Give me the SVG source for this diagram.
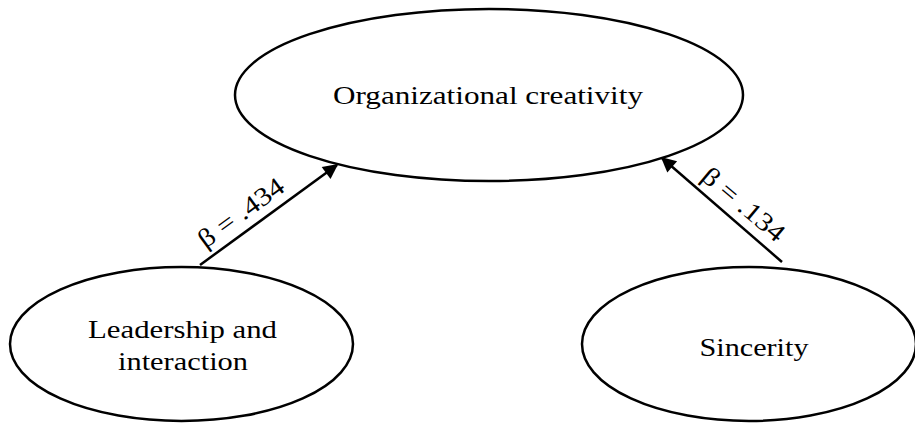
<svg xmlns="http://www.w3.org/2000/svg" width="915" height="423" viewBox="0 0 915 423">
<style>
.node{fill:#fff;stroke:#000;stroke-width:2.5}
.lbl{font-family:'Liberation Serif','Times New Roman',serif;font-size:26px;fill:#000;text-anchor:middle}
.edge{stroke:#000;stroke-width:2.5;fill:none}
</style>
<defs>
<marker id="ah" viewBox="0 0 10 10" refX="9" refY="5" markerWidth="7" markerHeight="6" markerUnits="strokeWidth" orient="auto">
<path d="M0,0 L10,5 L0,10 Z" fill="#000"/>
</marker>
</defs>
<rect width="915" height="423" fill="#fff"/>
<g id="oc">
<ellipse class="node" cx="489" cy="95" rx="254" ry="86"/>
<text class="lbl" x="488" y="104" textLength="310" lengthAdjust="spacingAndGlyphs">Organizational creativity</text>
</g>
<g id="li">
<ellipse class="node" cx="181.5" cy="344" rx="171.5" ry="77"/>
<text class="lbl" x="182.5" y="338" textLength="189" lengthAdjust="spacingAndGlyphs">Leadership and</text>
<text class="lbl" x="183" y="370" textLength="130" lengthAdjust="spacingAndGlyphs">interaction</text>
</g>
<g id="si">
<ellipse class="node" cx="749" cy="344" rx="167" ry="77"/>
<text class="lbl" x="754" y="356" textLength="109" lengthAdjust="spacingAndGlyphs">Sincerity</text>
</g>
<g id="edges">
<line class="edge" x1="200" y1="265" x2="337" y2="165" marker-end="url(#ah)"/>
<line class="edge" x1="782" y1="262" x2="662" y2="158" marker-end="url(#ah)"/>
<text class="lbl" transform="translate(246,219.5) rotate(-36)" textLength="100" lengthAdjust="spacingAndGlyphs">β = .434</text>
<text class="lbl" transform="translate(738,211) rotate(40)" textLength="100" lengthAdjust="spacingAndGlyphs">β = .134</text>
</g>
</svg>
